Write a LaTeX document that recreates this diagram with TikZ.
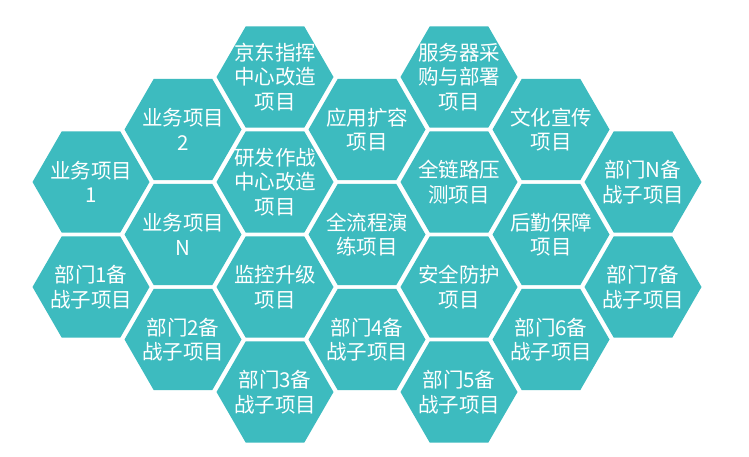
\documentclass[tikz,border=0pt]{standalone}
\usepackage{fontspec}
\setmainfont{Noto Sans CJK SC}
\usetikzlibrary{shapes.geometric}
\definecolor{hexteal}{RGB}{61,187,191}
\tikzset{
  hex/.style={regular polygon, regular polygon sides=6, minimum size=117pt,
    inner sep=0pt, outer sep=0pt, fill=hexteal, draw=none},
  hextext/.style={text=white, align=center, inner sep=0pt,
    font=\fontsize{20.5}{24.5}\selectfont}
}
\begin{document}
\begin{tikzpicture}[x=1pt,y=-1pt]
\useasboundingbox[fill=white] (0,0) rectangle (749,456);
% column 0
\node[hex, label={[hextext]center:业务项目\\1}] (c0a) at (91,182) {};
\node[hex, label={[hextext]center:部门1备\\战子项目}] (c0b) at (91,287) {};
% column 1
\node[hex, label={[hextext]center:业务项目\\2}] (c1a) at (183,129.5) {};
\node[hex, label={[hextext]center:业务项目\\N}] (c1b) at (183,234.5) {};
\node[hex, label={[hextext]center:部门2备\\战子项目}] (c1c) at (183,339.5) {};
% column 2
\node[hex, label={[hextext]center:京东指挥\\中心改造\\项目}] (c2a) at (275,77) {};
\node[hex, label={[hextext]center:研发作战\\中心改造\\项目}] (c2b) at (275,182) {};
\node[hex, label={[hextext]center:监控升级\\项目}] (c2c) at (275,287) {};
\node[hex, label={[hextext]center:部门3备\\战子项目}] (c2d) at (275,392) {};
% column 3
\node[hex, label={[hextext]center:应用扩容\\项目}] (c3a) at (367,129.5) {};
\node[hex, label={[hextext]center:全流程演\\练项目}] (c3b) at (367,234.5) {};
\node[hex, label={[hextext]center:部门4备\\战子项目}] (c3c) at (367,339.5) {};
% column 4
\node[hex, label={[hextext]center:服务器采\\购与部署\\项目}] (c4a) at (459,77) {};
\node[hex, label={[hextext]center:全链路压\\测项目}] (c4b) at (459,182) {};
\node[hex, label={[hextext]center:安全防护\\项目}] (c4c) at (459,287) {};
\node[hex, label={[hextext]center:部门5备\\战子项目}] (c4d) at (459,392) {};
% column 5
\node[hex, label={[hextext]center:文化宣传\\项目}] (c5a) at (551,129.5) {};
\node[hex, label={[hextext]center:后勤保障\\项目}] (c5b) at (551,234.5) {};
\node[hex, label={[hextext]center:部门6备\\战子项目}] (c5c) at (551,339.5) {};
% column 6
\node[hex, label={[hextext]center:部门N备\\战子项目}] (c6a) at (643,182) {};
\node[hex, label={[hextext]center:部门7备\\战子项目}] (c6b) at (643,287) {};
\end{tikzpicture}
\end{document}
